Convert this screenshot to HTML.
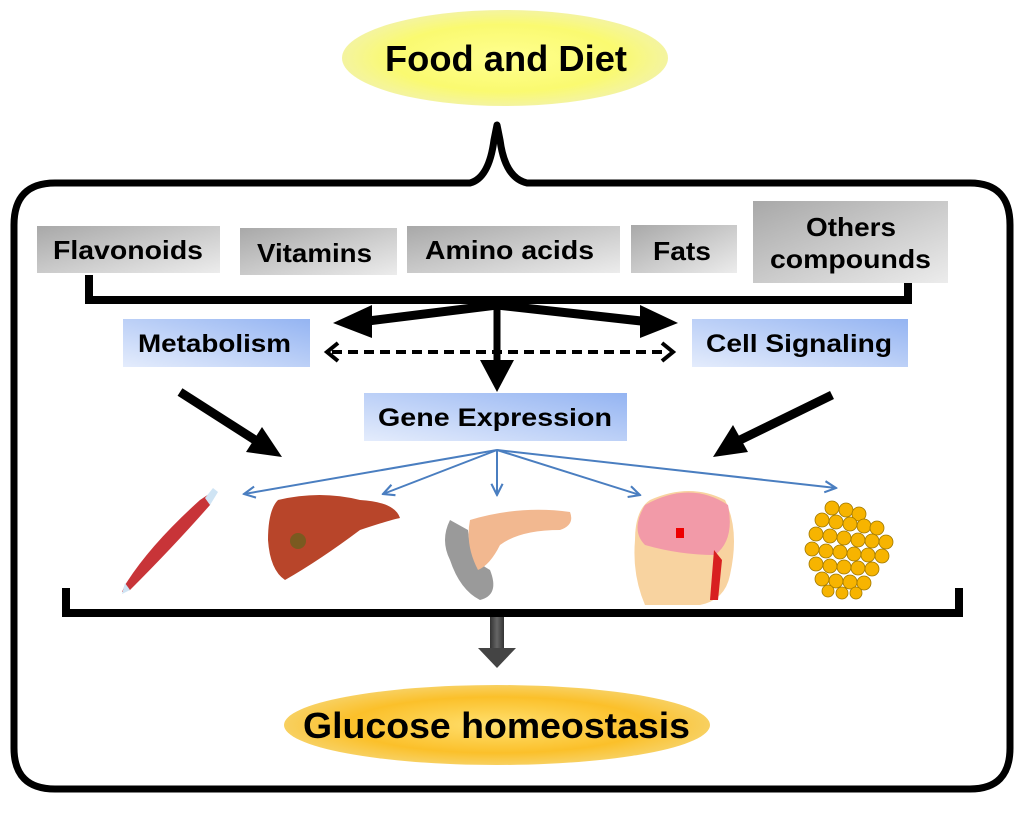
<!DOCTYPE html>
<html><head><meta charset="utf-8"><style>
html,body{margin:0;padding:0;background:#fff;}
svg{display:block;}
text{font-family:"Liberation Sans",sans-serif;font-weight:bold;}
</style></head><body>
<svg width="1024" height="814" viewBox="0 0 1024 814" xmlns="http://www.w3.org/2000/svg">
<defs>
<radialGradient id="yel" cx="50%" cy="50%" r="50%"><stop offset="0" stop-color="#ffff90"/><stop offset="0.7" stop-color="#fafa70"/><stop offset="1" stop-color="#f4f4a0"/></radialGradient>
<radialGradient id="org" cx="50%" cy="50%" r="50%"><stop offset="0" stop-color="#ffe070"/><stop offset="0.7" stop-color="#fbc02a"/><stop offset="1" stop-color="#f8d060"/></radialGradient>
<linearGradient id="gr" x1="0" y1="0" x2="1" y2="1"><stop offset="0" stop-color="#a8a8a8"/><stop offset="1" stop-color="#ececec"/></linearGradient>
<linearGradient id="bl" x1="0" y1="1" x2="1" y2="0"><stop offset="0" stop-color="#e4ecfc"/><stop offset="1" stop-color="#94b4f2"/></linearGradient>
<linearGradient id="dg" x1="0" y1="0" x2="1" y2="0"><stop offset="0" stop-color="#333"/><stop offset="0.5" stop-color="#666"/><stop offset="1" stop-color="#333"/></linearGradient>
<marker id="ba" viewBox="0 0 10 10" refX="9" refY="5" markerWidth="7" markerHeight="7" orient="auto-start-reverse"><path d="M1 1 L9 5 L1 9" fill="none" stroke="#4a7ec0" stroke-width="1.5"/></marker>
</defs>
<ellipse cx="505" cy="58" rx="163" ry="48" fill="url(#yel)"/>
<text x="385" y="71" font-size="36" textLength="242" lengthAdjust="spacingAndGlyphs">Food and Diet</text>
<path d="M470 183 L55 183 Q14 183 14 225 L14 748 Q14 789 55 789 L970 789 Q1010 789 1010 748 L1010 225 Q1010 183 970 183 L527 183 Q505 178 500 140 L497 125 L494 140 Q489 178 470 183 Z" fill="none" stroke="#000" stroke-width="7" stroke-linejoin="round"/>
<rect x="37" y="226" width="183" height="47" fill="url(#gr)"/>
<text x="53" y="259" font-size="26" textLength="150" lengthAdjust="spacingAndGlyphs">Flavonoids</text>
<rect x="240" y="228" width="157" height="47" fill="url(#gr)"/>
<text x="257" y="262" font-size="26" textLength="115" lengthAdjust="spacingAndGlyphs">Vitamins</text>
<rect x="407" y="226" width="213" height="47" fill="url(#gr)"/>
<text x="425" y="259" font-size="26" textLength="169" lengthAdjust="spacingAndGlyphs">Amino acids</text>
<rect x="631" y="225" width="106" height="48" fill="url(#gr)"/>
<text x="653" y="260" font-size="26" textLength="58" lengthAdjust="spacingAndGlyphs">Fats</text>
<rect x="753" y="201" width="195" height="82" fill="url(#gr)"/>
<text x="806" y="236" font-size="26" textLength="90" lengthAdjust="spacingAndGlyphs">Others</text>
<text x="770" y="268" font-size="26" textLength="161" lengthAdjust="spacingAndGlyphs">compounds</text>
<path d="M89 275 L89 300 L908 300 L908 283" fill="none" stroke="#000" stroke-width="8"/>
<rect x="123" y="319" width="187" height="48" fill="url(#bl)"/>
<text x="138" y="352" font-size="25" textLength="153" lengthAdjust="spacingAndGlyphs">Metabolism</text>
<rect x="692" y="319" width="216" height="48" fill="url(#bl)"/>
<text x="706" y="352" font-size="25" textLength="186" lengthAdjust="spacingAndGlyphs">Cell Signaling</text>
<rect x="364" y="393" width="263" height="48" fill="url(#bl)"/>
<text x="378" y="426" font-size="25" textLength="234" lengthAdjust="spacingAndGlyphs">Gene Expression</text>
<path d="M497 305 L360 322" stroke="#000" stroke-width="9" fill="none"/>
<polygon points="333,323 372,305 372,338" fill="#000"/>
<path d="M497 305 L650 322" stroke="#000" stroke-width="9" fill="none"/>
<polygon points="678,323 640,305 640,338" fill="#000"/>
<path d="M497 303 L497 365" stroke="#000" stroke-width="7"/>
<polygon points="497,392 480,360 514,360" fill="#000"/>
<path d="M332 352 L668 352" stroke="#000" stroke-width="4" stroke-dasharray="10,6"/>
<path d="M338 343 L327 352 L338 361 M662 343 L673 352 L662 361" fill="none" stroke="#000" stroke-width="4"/>
<path d="M180 392 L255 440" stroke="#000" stroke-width="9"/>
<polygon points="282,457 246,452 262,427" fill="#000"/>
<path d="M832 395 L740 440" stroke="#000" stroke-width="9"/>
<polygon points="713,457 733,425 748,452" fill="#000"/>
<g stroke="#4a7ec0" stroke-width="2" fill="none" marker-end="url(#ba)">
<path d="M497 450 L244 494"/><path d="M497 450 L383 494"/><path d="M497 450 L497 495"/><path d="M497 450 L640 495"/><path d="M497 450 L836 488"/>
</g>
<g>
<path d="M215 490 L200 500 Q150 545 125 585 L122 592 L130 590 Q175 545 210 505 Z" fill="#c83438"/>
<path d="M213 488 L218 492 L210 505 L205 498 Z M125 583 L130 590 L122 594 Z" fill="#cfe4f4"/>
<path d="M278 500 Q320 490 360 500 Q395 502 400 518 Q390 520 360 530 Q320 560 285 580 Q270 570 268 540 Q268 510 278 500 Z" fill="#b8452a"/>
<circle cx="298" cy="541" r="8" fill="#7a5a20"/>
<path d="M450 520 Q440 540 450 560 Q460 590 480 600 Q500 595 490 570 Q470 560 468 530 Z" fill="#9a9a9a"/>
<path d="M470 520 Q520 505 570 512 Q575 525 560 530 Q520 530 500 545 Q490 565 478 570 Q465 545 470 520 Z" fill="#f2b890"/>
<path d="M650 500 Q690 482 725 500 Q740 530 730 575 Q725 600 700 605 L645 605 Q632 575 635 540 Q635 510 650 500 Z" fill="#f8d3a0"/>
<path d="M645 505 Q690 480 728 505 Q735 540 715 555 Q680 555 645 545 Q630 530 645 505 Z" fill="#f29aa8"/>
<path d="M714 550 L722 560 L718 600 L710 600 Z" fill="#d82020"/>
<rect x="676" y="528" width="8" height="10" fill="#e00"/>
<g fill="#f7b400" stroke="#a07800" stroke-width="0.8">
<circle cx="832" cy="508" r="7"/><circle cx="846" cy="510" r="7"/><circle cx="859" cy="514" r="7"/>
<circle cx="822" cy="520" r="7"/><circle cx="836" cy="522" r="7"/><circle cx="850" cy="524" r="7"/><circle cx="864" cy="526" r="7"/><circle cx="877" cy="528" r="7"/>
<circle cx="816" cy="534" r="7"/><circle cx="830" cy="536" r="7"/><circle cx="844" cy="538" r="7"/><circle cx="858" cy="540" r="7"/><circle cx="872" cy="541" r="7"/><circle cx="886" cy="542" r="7"/>
<circle cx="812" cy="549" r="7"/><circle cx="826" cy="551" r="7"/><circle cx="840" cy="552" r="7"/><circle cx="854" cy="554" r="7"/><circle cx="868" cy="555" r="7"/><circle cx="882" cy="556" r="7"/>
<circle cx="816" cy="564" r="7"/><circle cx="830" cy="566" r="7"/><circle cx="844" cy="567" r="7"/><circle cx="858" cy="568" r="7"/><circle cx="872" cy="569" r="7"/>
<circle cx="822" cy="579" r="7"/><circle cx="836" cy="581" r="7"/><circle cx="850" cy="582" r="7"/><circle cx="864" cy="583" r="7"/>
<circle cx="828" cy="591" r="6"/><circle cx="842" cy="593" r="6"/><circle cx="856" cy="593" r="6"/>
</g>
</g>
<path d="M66 588 L66 613 L959 613 L959 588" fill="none" stroke="#000" stroke-width="8"/>
<rect x="490" y="617" width="14" height="33" fill="url(#dg)"/>
<polygon points="478,648 516,648 497,668" fill="#444"/>
<ellipse cx="497" cy="725" rx="213" ry="40" fill="url(#org)"/>
<text x="303" y="738" font-size="36" textLength="387" lengthAdjust="spacingAndGlyphs">Glucose homeostasis</text>
</svg>
</body></html>
